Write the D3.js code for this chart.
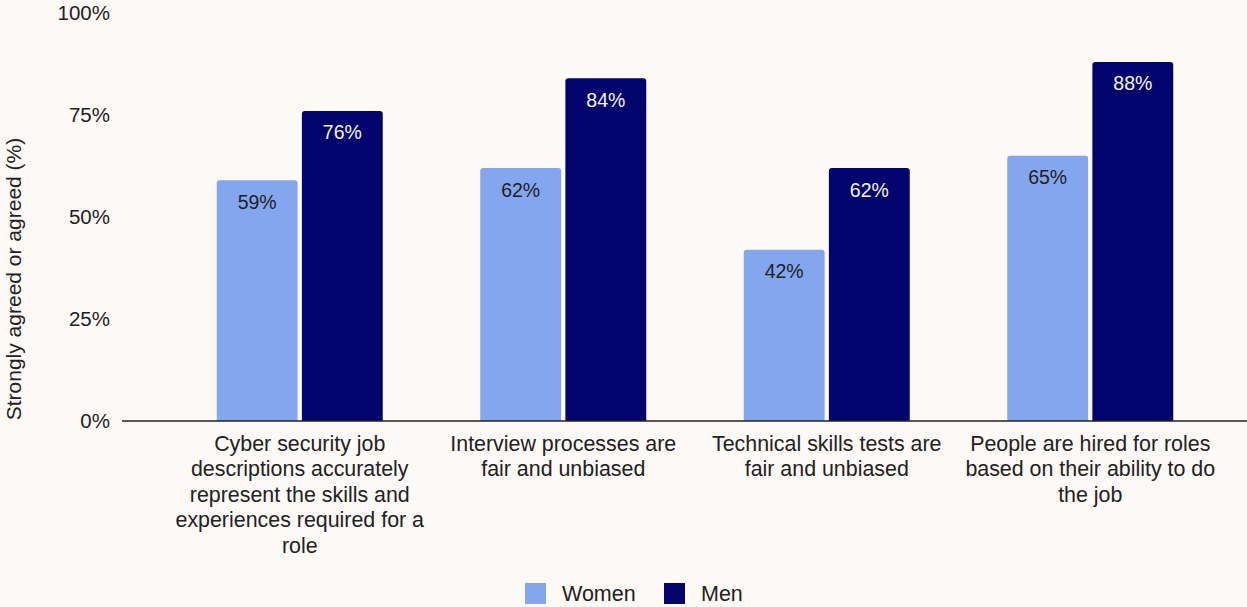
<!DOCTYPE html>
<html>
<head>
<meta charset="utf-8">
<script src="https://cdn.jsdelivr.net/npm/d3@7"></script>
<style>
  html, body { margin: 0; padding: 0; background: #fdf9f6; }
  svg { display: block; font-family: "Liberation Sans", Arial, sans-serif; }
</style>
</head>
<body>
<svg id="chart" width="1247" height="607"></svg>
<script>
// Survey statements (x categories)
const categories = [
  "Cyber security job descriptions accurately represent the skills and experiences required for a role",
  "Interview processes are fair and unbiased",
  "Technical skills tests are fair and unbiased",
  "People are hired for roles based on their ability to do the job"
];
// Wrapped lines for each category label
const categoryLines = [
  ["Cyber security job", "descriptions accurately", "represent the skills and", "experiences required for a", "role"],
  ["Interview processes are", "fair and unbiased"],
  ["Technical skills tests are", "fair and unbiased"],
  ["People are hired for roles", "based on their ability to do", "the job"]
];
const seriesNames = ["Women", "Men"];
const women = [59, 62, 42, 65];
const men = [76, 84, 62, 88];
const yTicks = [0, 25, 50, 75, 100];

const colors = { Women: "#83a6ef", Men: "#03036e" };
const labelColors = { Women: "#1f1f1f", Men: "#f4f4f4" };
const FONT = "Liberation Sans, Arial, sans-serif";

const svg = d3.select("#chart");
const W = 1247, H = 607;
const margin = { top: 13, bottom: 186, left: 122 };
const plotBottom = H - margin.bottom; // 421

const y = d3.scaleLinear().domain([0, 100]).range([plotBottom, margin.top]);
const x0 = d3.scaleBand().domain(categories).range([168, 1222]).padding(0);
const x1 = d3.scaleBand().domain(seriesNames).range([0, 166]).paddingInner(0.05);
const groupOffset = (x0.bandwidth() - 166) / 2;

const data = categories.map((c, i) => ({ cat: c, values: [
  { key: "Women", value: women[i] },
  { key: "Men", value: men[i] }
]}));

// Y axis tick labels (no line, no tick marks)
const yAxis = d3.axisLeft(y).tickValues(yTicks).tickFormat(d => d + "%").tickSize(0).tickPadding(12);
const gy = svg.append("g").attr("transform", `translate(${margin.left},0)`).call(yAxis);
gy.attr("font-family", FONT).attr("font-size", 20.5);
gy.select(".domain").remove();
gy.selectAll("text").attr("fill", "#222");

// Y axis title
svg.append("text")
  .attr("transform", `translate(21,279) rotate(-90)`)
  .attr("text-anchor", "middle")
  .attr("font-size", 21)
  .attr("fill", "#222")
  .text("Strongly agreed or agreed (%)");

// Bars with slightly rounded tops
const r = 3;
function topRounded(x, yTop, w, yBase) {
  const h = yBase - yTop;
  const rr = Math.min(r, h / 2, w / 2);
  return `M${x},${yBase}V${yTop + rr}Q${x},${yTop} ${x + rr},${yTop}H${x + w - rr}Q${x + w},${yTop} ${x + w},${yTop + rr}V${yBase}Z`;
}

const groups = svg.append("g").selectAll("g").data(data).join("g")
  .attr("transform", d => `translate(${x0(d.cat) + groupOffset},0)`);

groups.selectAll("path").data(d => d.values).join("path")
  .attr("d", d => topRounded(x1(d.key), y(d.value), x1.bandwidth(), y(0)))
  .attr("fill", d => colors[d.key]);

groups.selectAll("text.val").data(d => d.values).join("text")
  .attr("class", "val")
  .attr("x", d => x1(d.key) + x1.bandwidth() / 2)
  .attr("y", d => y(d.value) + 28.5)
  .attr("text-anchor", "middle")
  .attr("font-size", 19.5)
  .attr("fill", d => labelColors[d.key])
  .text(d => d.value + "%");

// Baseline
svg.append("line")
  .attr("x1", margin.left).attr("x2", W)
  .attr("y1", y(0)).attr("y2", y(0))
  .attr("stroke", "#222").attr("stroke-width", 1.5);

// Category labels
const catG = svg.append("g").selectAll("text").data(categories).join("text")
  .attr("text-anchor", "middle")
  .attr("font-size", 21.4)
  .attr("fill", "#222")
  .attr("x", d => x0(d) + x0.bandwidth() / 2)
  .attr("y", 450.5);
catG.each(function (d, i) {
  d3.select(this).selectAll("tspan").data(categoryLines[i]).join("tspan")
    .attr("x", x0(d) + x0.bandwidth() / 2)
    .attr("dy", (l, j) => j === 0 ? 0 : 25.5)
    .text(l => l);
});

// Legend
const legend = svg.append("g");
const legendItems = [{ key: "Women", x: 525 }, { key: "Men", x: 664 }];
legendItems.forEach(it => {
  legend.append("rect").attr("x", it.x).attr("y", 583).attr("width", 21).attr("height", 21)
    .attr("fill", colors[it.key]);
  legend.append("text").attr("x", it.x + 37).attr("y", 601)
    .attr("font-size", 21.5).attr("fill", "#222").text(it.key);
});
</script>
</body>
</html>
